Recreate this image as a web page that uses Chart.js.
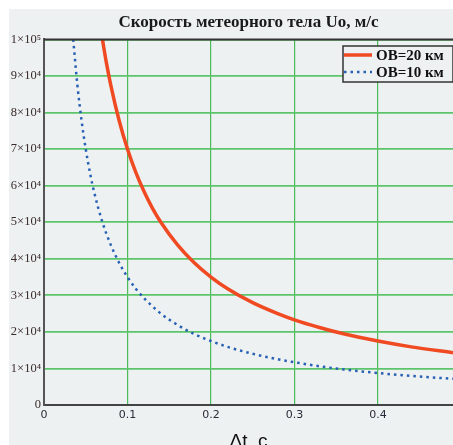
<!DOCTYPE html>
<html>
<head>
<meta charset="utf-8">
<script src="https://cdn.jsdelivr.net/npm/chart.js@4/dist/chart.umd.min.js"></script>
<style>
  html, body { margin: 0; padding: 0; background: #fff; }
  #wrap { width: 453px; height: 445px; }
</style>
</head>
<body>
<div id="wrap"><canvas id="speedChart" width="453" height="445"></canvas></div>
<script>
// Title and series names
const chartTitle = "Скорость метеорного тела Uo, м/с";
const xTitle = "Δt, c";
const seriesNames = ["OB=20 км", "OB=10 км"];

// OB = 20 km
const dt20 = [0.07, 0.075, 0.08, 0.09, 0.1, 0.11, 0.12, 0.13, 0.14, 0.16, 0.18, 0.2, 0.22, 0.25, 0.28, 0.3, 0.33, 0.36, 0.4, 0.44, 0.49];
const u20 = [100000, 93300, 87500, 77800, 70000, 63600, 58300, 53800, 50000, 43800, 38900, 35000, 31800, 28000, 25000, 23300, 21200, 19400, 17500, 15900, 14300];

// OB = 10 km
const dt10 = [0.035, 0.04, 0.045, 0.05, 0.055, 0.06, 0.07, 0.08, 0.09, 0.1, 0.11, 0.12, 0.14, 0.16, 0.18, 0.2, 0.22, 0.25, 0.28, 0.3, 0.33, 0.36, 0.4, 0.44, 0.49];
const u10 = [100000, 87500, 77800, 70000, 63600, 58300, 50000, 43800, 38900, 35000, 31800, 29200, 25000, 21900, 19400, 17500, 15900, 14000, 12500, 11700, 10600, 9700, 8750, 7950, 7150];

// Tick labels
const xTickLabels = ["0", "0.1", "0.2", "0.3", "0.4"];
const yTickLabels = ["0", "1×10⁴", "2×10⁴", "3×10⁴", "4×10⁴", "5×10⁴", "6×10⁴", "7×10⁴", "8×10⁴", "9×10⁴", "1×10⁵"];

const redColor = "#f04a22";
const blueColor = "#2860b4";
const blueDash = [2.5, 4];

const toPoints = (xs, ys) => xs.map((x, i) => ({ x: x, y: ys[i] }));

// Gray panel, top frame line and legend box
const decor = {
  id: "decor",
  beforeDraw(chart) {
    const c = chart.ctx;
    c.save();
    c.fillStyle = "#ffffff";
    c.fillRect(0, 0, chart.width, chart.height);
    c.fillStyle = "#edf1f2";
    c.fillRect(9, 9, chart.width - 9, chart.height - 9);
    c.restore();
  },
  afterDraw(chart) {
    const c = chart.ctx;
    const a = chart.chartArea;
    c.save();
    c.strokeStyle = "#333";
    c.lineWidth = 2;
    c.beginPath();
    c.moveTo(a.left, a.top);
    c.lineTo(a.right, a.top);
    c.stroke();

    // legend
    const lx = 343, ly = 46, lw = 110, lh = 36;
    c.fillStyle = "#eef1f2";
    c.fillRect(lx, ly, lw, lh);
    c.strokeStyle = "#333";
    c.lineWidth = 1.5;
    c.strokeRect(lx, ly, lw, lh);

    c.font = "bold 15px 'Liberation Serif', serif";
    c.fillStyle = "#111";
    c.textBaseline = "middle";
    chart.data.datasets.forEach((ds, i) => {
      const y = ly + 9 + i * 17;
      c.strokeStyle = ds.borderColor;
      c.lineWidth = ds.borderWidth;
      c.setLineDash(ds.borderDash || []);
      c.beginPath();
      c.moveTo(lx + 1, y);
      c.lineTo(lx + 29, y);
      c.stroke();
      c.setLineDash([]);
      c.fillText(ds.label, lx + 33, y + 1);
    });
    c.restore();
  }
};

new Chart(document.getElementById("speedChart"), {
  type: "line",
  data: {
    datasets: [
      {
        label: seriesNames[0],
        data: toPoints(dt20, u20),
        borderColor: redColor,
        borderWidth: 3.5,
        pointRadius: 0,
        cubicInterpolationMode: "monotone",
        fill: false,
      },
      {
        label: seriesNames[1],
        data: toPoints(dt10, u10),
        borderColor: blueColor,
        borderWidth: 2.5,
        borderDash: blueDash,
        pointRadius: 0,
        cubicInterpolationMode: "monotone",
        fill: false,
      },
    ],
  },
  options: {
    responsive: false,
    animation: false,
    clip: true,
    layout: { padding: { left: 0, right: 0, top: 0, bottom: 0 } },
    plugins: {
      legend: { display: false },
      tooltip: { enabled: false },
      title: {
        display: true,
        text: chartTitle,
        fullSize: false,
        color: "#1a1a1a",
        font: { family: "'Liberation Serif', serif", size: 17, weight: "bold" },
        padding: { top: 12, bottom: 7 },
      },
    },
    scales: {
      x: {
        type: "linear",
        min: 0,
        max: 0.49,
        afterFit(scale) { scale.height = 40; },
        border: { color: "#444", width: 2 },
        grid: { color: "#4cbb5a", lineWidth: 1.2, drawTicks: false },
        ticks: {
          stepSize: 0.1,
          includeBounds: false,
          padding: 4,
          color: "#2a2a3a",
          font: { family: "'DejaVu Sans', sans-serif", size: 11 },
          callback: (v, i) => xTickLabels[i],
        },
        title: {
          display: true,
          text: xTitle,
          color: "#111",
          font: { family: "'Liberation Sans', sans-serif", size: 19 },
          padding: { top: 0, bottom: -8 },
        },
      },
      y: {
        min: 0,
        max: 100000,
        afterFit(scale) { scale.width = 44; },
        border: { color: "#555", width: 2 },
        grid: { color: "#5cc46a", lineWidth: 1.8, drawTicks: false },
        ticks: {
          stepSize: 10000,
          padding: 3,
          color: "#3a2a2a",
          font: { family: "'Liberation Serif', serif", size: 12.5 },
          callback: (v, i) => yTickLabels[i],
        },
      },
    },
  },
  plugins: [decor],
});
</script>
</body>
</html>
